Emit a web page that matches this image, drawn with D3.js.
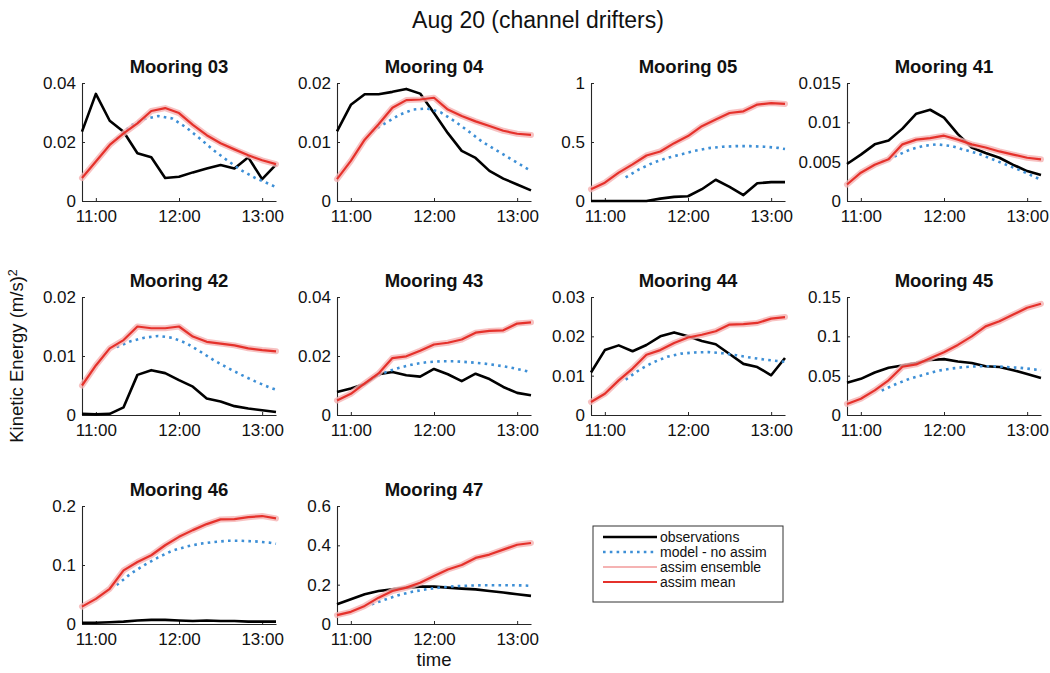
<!DOCTYPE html>
<html>
<head>
<meta charset="utf-8">
<script src="https://cdn.jsdelivr.net/npm/d3@7"></script>
<style>
  body { margin: 0; background: #fff; }
  text { font-family: "Liberation Sans", Arial, Helvetica, sans-serif; fill: #111; }
</style>
</head>
<body>
<svg id="chart" width="1050" height="673"></svg>
<script>
// ---- sample times ----
const obsTimes   = ["10:50","11:00","11:10","11:20","11:30","11:40","11:50","12:00","12:10","12:20","12:30","12:40","12:50","13:00","13:10"];
const modelTimes = ["11:15","11:25","11:35","11:45","11:55","12:05","12:15","12:25","12:35","12:45","12:55","13:05","13:10"];
const xTickLabels = ["11:00","12:00","13:00"];

// ---- kinetic energy (m/s)^2 per mooring ----
const obs03   = [0.0235,0.0363,0.0272,0.0235,0.0162,0.0148,0.0078,0.0082,0.0097,0.011,0.0122,0.011,0.0148,0.0074,0.0123];
const model03 = [0.021,0.0255,0.0278,0.0288,0.028,0.025,0.0212,0.0172,0.0137,0.0104,0.0078,0.0058,0.0047];
const mean03  = [0.0078,0.0134,0.019,0.0229,0.0263,0.0305,0.0315,0.0298,0.0258,0.0223,0.0196,0.0175,0.0155,0.0138,0.0125];

const obs04   = [0.0118,0.0163,0.0181,0.0181,0.0185,0.019,0.0182,0.0149,0.0115,0.0085,0.0073,0.0051,0.0038,0.0028,0.0018];
const model04 = [0.0118,0.0132,0.0146,0.0155,0.0157,0.015,0.0135,0.0118,0.01,0.0086,0.0072,0.0058,0.0051];
const mean04  = [0.0037,0.0068,0.0104,0.013,0.0158,0.0171,0.0172,0.0175,0.0155,0.0144,0.0135,0.0127,0.0119,0.0114,0.0112];

const obs05   = [0,0,0,0,0,0.02,0.035,0.04,0.1,0.18,0.12,0.05,0.15,0.16,0.16];
const model05 = [0.2,0.27,0.325,0.365,0.395,0.425,0.448,0.46,0.465,0.465,0.46,0.45,0.44];
const mean05  = [0.099,0.155,0.24,0.31,0.386,0.42,0.49,0.55,0.634,0.69,0.746,0.76,0.817,0.83,0.823];

const obs41   = [0.0047,0.0059,0.0072,0.0077,0.0092,0.0111,0.0116,0.0106,0.0085,0.0068,0.0061,0.0055,0.0046,0.0038,0.0033];
const model41 = [0.005,0.0057,0.0065,0.007,0.0072,0.007,0.0065,0.006,0.0053,0.0046,0.0039,0.0031,0.0027];
const mean41  = [0.0021,0.0036,0.0046,0.0053,0.0072,0.0078,0.008,0.0083,0.0078,0.0072,0.0068,0.0063,0.0059,0.0055,0.0053];

const obs42   = [0.0002,0.0001,0.0002,0.0013,0.0068,0.0076,0.0071,0.0059,0.0048,0.0028,0.0023,0.0015,0.0011,0.0008,0.0005];
const model42 = [0.0115,0.0125,0.0131,0.0134,0.0131,0.0122,0.0108,0.0093,0.008,0.0068,0.0057,0.0047,0.0043];
const mean42  = [0.005,0.0084,0.0113,0.0127,0.015,0.0147,0.0147,0.015,0.0133,0.0124,0.0121,0.0118,0.0113,0.011,0.0108];

const obs43   = [0.0078,0.009,0.0105,0.0138,0.0146,0.0135,0.013,0.0156,0.0138,0.0115,0.014,0.0122,0.0095,0.0075,0.0067];
const model43 = [0.0125,0.0145,0.016,0.0172,0.0179,0.0182,0.0182,0.0179,0.0175,0.0169,0.0161,0.0151,0.0145];
const mean43  = [0.0049,0.0072,0.0107,0.0141,0.0193,0.0199,0.0218,0.0239,0.0245,0.0256,0.0279,0.0285,0.0287,0.031,0.0314];

const obs44   = [0.0108,0.0165,0.0177,0.0162,0.0178,0.02,0.021,0.02,0.0188,0.018,0.0155,0.013,0.0122,0.0101,0.0145];
const model44 = [0.009,0.0115,0.0134,0.0148,0.0156,0.0159,0.016,0.0157,0.0152,0.0146,0.0141,0.0137,0.0135];
const mean44  = [0.0033,0.0054,0.0088,0.0118,0.0153,0.0165,0.0183,0.0197,0.0204,0.0213,0.023,0.0231,0.0234,0.0245,0.0249];

const obs45   = [0.041,0.046,0.054,0.06,0.063,0.066,0.07,0.071,0.068,0.066,0.062,0.061,0.057,0.052,0.047];
const model45 = [0.031,0.039,0.046,0.051,0.056,0.059,0.061,0.062,0.062,0.061,0.06,0.058,0.057];
const mean45  = [0.0141,0.0206,0.0313,0.0441,0.0613,0.0643,0.072,0.0797,0.0891,0.0999,0.1127,0.1191,0.1277,0.1363,0.1414];

const obs46   = [0.002,0.002,0.003,0.004,0.006,0.007,0.007,0.006,0.005,0.006,0.005,0.005,0.004,0.004,0.004];
const model46 = [0.066,0.085,0.1,0.113,0.124,0.131,0.136,0.139,0.141,0.141,0.14,0.138,0.136];
const mean46  = [0.0295,0.0426,0.0597,0.0909,0.1051,0.1165,0.1335,0.1477,0.1591,0.1693,0.1773,0.1778,0.181,0.183,0.179];

const obs47   = [0.1,0.126,0.151,0.168,0.176,0.185,0.19,0.19,0.185,0.18,0.176,0.168,0.16,0.151,0.143];
const model47 = [0.1,0.125,0.148,0.165,0.177,0.186,0.192,0.195,0.197,0.197,0.197,0.196,0.194];
const mean47  = [0.045,0.062,0.092,0.134,0.168,0.185,0.21,0.244,0.277,0.3,0.336,0.353,0.378,0.403,0.412];

// ---- y ticks per mooring ----
const yTicks03 = [0, 0.02, 0.04],            yLabels03 = ["0","0.02","0.04"];
const yTicks04 = [0, 0.01, 0.02],            yLabels04 = ["0","0.01","0.02"];
const yTicks05 = [0, 0.5, 1],                yLabels05 = ["0","0.5","1"];
const yTicks41 = [0, 0.005, 0.01, 0.015],    yLabels41 = ["0","0.005","0.01","0.015"];
const yTicks42 = [0, 0.01, 0.02],            yLabels42 = ["0","0.01","0.02"];
const yTicks43 = [0, 0.02, 0.04],            yLabels43 = ["0","0.02","0.04"];
const yTicks44 = [0, 0.01, 0.02, 0.03],      yLabels44 = ["0","0.01","0.02","0.03"];
const yTicks45 = [0, 0.05, 0.1, 0.15],       yLabels45 = ["0","0.05","0.1","0.15"];
const yTicks46 = [0, 0.1, 0.2],              yLabels46 = ["0","0.1","0.2"];
const yTicks47 = [0, 0.2, 0.4, 0.6],         yLabels47 = ["0","0.2","0.4","0.6"];

const moorings = ["03","04","05","41","42","43","44","45","46","47"];
const legendLabels = ["observations","model - no assim","assim ensemble","assim mean"];

const panels = [
  { name: "Mooring 03", obs: obs03, model: model03, mean: mean03, ticks: yTicks03, labels: yLabels03 },
  { name: "Mooring 04", obs: obs04, model: model04, mean: mean04, ticks: yTicks04, labels: yLabels04 },
  { name: "Mooring 05", obs: obs05, model: model05, mean: mean05, ticks: yTicks05, labels: yLabels05 },
  { name: "Mooring 41", obs: obs41, model: model41, mean: mean41, ticks: yTicks41, labels: yLabels41 },
  { name: "Mooring 42", obs: obs42, model: model42, mean: mean42, ticks: yTicks42, labels: yLabels42 },
  { name: "Mooring 43", obs: obs43, model: model43, mean: mean43, ticks: yTicks43, labels: yLabels43 },
  { name: "Mooring 44", obs: obs44, model: model44, mean: mean44, ticks: yTicks44, labels: yLabels44 },
  { name: "Mooring 45", obs: obs45, model: model45, mean: mean45, ticks: yTicks45, labels: yLabels45 },
  { name: "Mooring 46", obs: obs46, model: model46, mean: mean46, ticks: yTicks46, labels: yLabels46 },
  { name: "Mooring 47", obs: obs47, model: model47, mean: mean47, ticks: yTicks47, labels: yLabels47 }
];

// ---- layout ----
const colLeft = [82, 337, 591, 847];
const rowTop = [83, 297, 506];
const plotW = 194, plotH = 118;
const C = { obs: "#000000", model: "#3d8fd6", ens: "#f5b3b3", mean: "#e5312b", axis: "#262626" };

const parseT = d3.timeParse("%H:%M");
const svg = d3.select("#chart");

// figure title and shared axis labels
svg.append("text").attr("x", 538).attr("y", 28).attr("text-anchor", "middle")
  .style("font-size", "23px").text("Aug 20 (channel drifters)");

const yl = svg.append("text").attr("transform", "translate(23,356) rotate(-90)")
  .attr("text-anchor", "middle").style("font-size", "18.5px");
yl.append("tspan").text("Kinetic Energy (m/s)");
yl.append("tspan").attr("dy", "-0.45em").style("font-size", "12.5px").text("2");

svg.append("text").attr("x", 434).attr("y", 666).attr("text-anchor", "middle")
  .style("font-size", "18.5px").text("time");

panels.forEach((p, i) => {
  const col = i % 4, row = Math.floor(i / 4);
  const g = svg.append("g").attr("transform", `translate(${colLeft[col]},${rowTop[row]})`);

  const x = d3.scaleTime()
    .domain([parseT(obsTimes[0]), parseT(obsTimes[obsTimes.length - 1])])
    .range([0, plotW]);
  const y = d3.scaleLinear().domain([0, p.ticks[p.ticks.length - 1]]).range([plotH, 0]);

  const line = d3.line().x(d => x(d.t)).y(d => y(d.v));
  const obsPts = obsTimes.map((t, k) => ({ t: parseT(t), v: p.obs[k] }));
  const meanPts = obsTimes.map((t, k) => ({ t: parseT(t), v: p.mean[k] }));
  const modelPts = modelTimes.map((t, k) => ({ t: parseT(t), v: p.model[k] }));

  // axes (box off, inward ticks)
  const xa = g.append("g").attr("transform", `translate(0,${plotH})`)
    .call(d3.axisBottom(x).tickValues(xTickLabels.map(parseT))
      .tickFormat((d, k) => xTickLabels[k]).tickSizeInner(-3).tickSizeOuter(0).tickPadding(9));
  const ya = g.append("g")
    .call(d3.axisLeft(y).tickValues(p.ticks)
      .tickFormat((d, k) => p.labels[k]).tickSizeInner(-3).tickSizeOuter(0).tickPadding(6));
  [xa, ya].forEach(a => {
    a.select(".domain").attr("stroke", C.axis).attr("stroke-width", 1.1);
    a.selectAll(".tick line").attr("stroke", C.axis);
    a.selectAll(".tick text").style("font-size", "17px").attr("fill", "#1a1a1a")
      .style("font-family", '"Liberation Sans", Arial, Helvetica, sans-serif');
  });

  // series: observations, model without assimilation, ensemble spread, ensemble mean
  g.append("path").datum(obsPts).attr("d", line).attr("fill", "none")
    .attr("stroke", C.obs).attr("stroke-width", 2.6).attr("stroke-linejoin", "round");
  g.append("path").datum(modelPts).attr("d", line).attr("fill", "none")
    .attr("stroke", C.model).attr("stroke-width", 2.6).attr("stroke-dasharray", "2.6 4.2");
  g.append("path").datum(meanPts).attr("d", line).attr("fill", "none")
    .attr("stroke", C.ens).attr("stroke-width", 6).attr("stroke-opacity", 0.8)
    .attr("stroke-linejoin", "round").attr("stroke-linecap", "round");
  g.append("path").datum(meanPts).attr("d", line).attr("fill", "none")
    .attr("stroke", C.mean).attr("stroke-width", 2.2).attr("stroke-linejoin", "round");

  g.append("text").attr("x", plotW / 2).attr("y", -10).attr("text-anchor", "middle")
    .style("font-size", "18.5px").style("font-weight", "bold").text(p.name);
});

// legend
const lg = svg.append("g").attr("transform", "translate(593,526)");
lg.append("rect").attr("width", 190).attr("height", 76)
  .attr("fill", "#fff").attr("stroke", "#333").attr("stroke-width", 1);
const legendStyles = [
  { stroke: C.obs, w: 2.6, dash: null },
  { stroke: C.model, w: 2.6, dash: "2.6 4.2" },
  { stroke: C.ens, w: 2.2, dash: null },
  { stroke: C.mean, w: 2.2, dash: null }
];
legendLabels.forEach((lab, k) => {
  const yy = 11 + k * 15;
  lg.append("line").attr("x1", 10).attr("x2", 64).attr("y1", yy).attr("y2", yy)
    .attr("stroke", legendStyles[k].stroke).attr("stroke-width", legendStyles[k].w)
    .attr("stroke-dasharray", legendStyles[k].dash);
  lg.append("text").attr("x", 67).attr("y", yy).attr("dy", "0.35em")
    .style("font-size", "14px").text(lab);
});
</script>
</body>
</html>
